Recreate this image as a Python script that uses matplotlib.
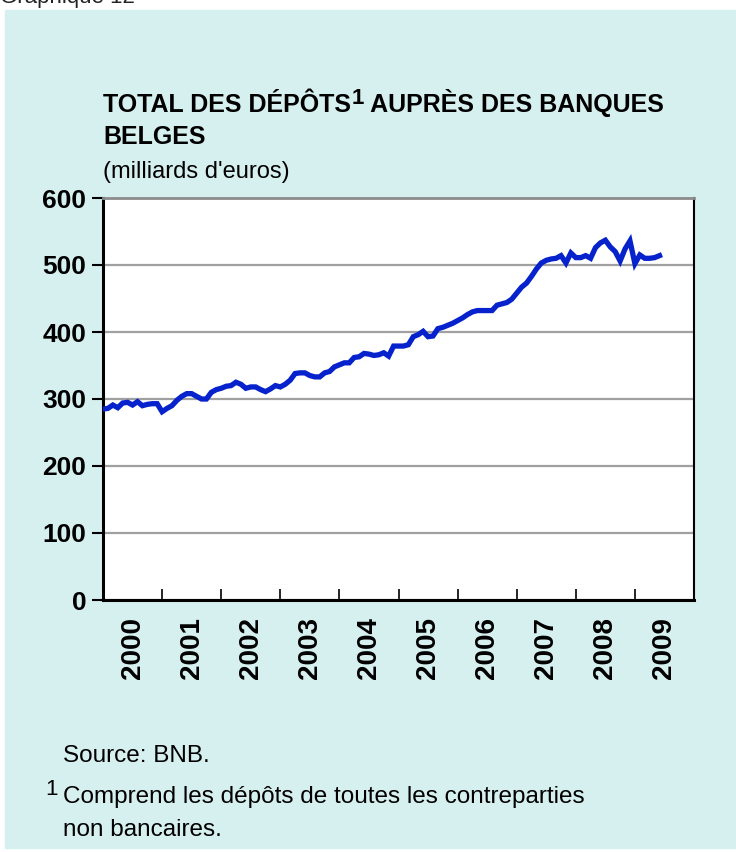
import matplotlib
matplotlib.use("Agg")
import matplotlib.pyplot as plt
from matplotlib.patches import Rectangle
import numpy as np

# total deposits, monthly, Jan 2000 - Jun 2009 (billion EUR)
deposits = [
    285, 286, 291, 287, 294, 295, 291, 296, 290, 292, 293, 293,   # 2000
    281, 286, 290, 298, 304, 308, 308, 304, 300, 300, 310, 314,   # 2001
    316, 319, 320, 325, 322, 316, 318, 318, 314, 311, 315, 320,   # 2002
    318, 322, 328, 338, 339, 339, 335, 333, 333, 339, 341, 348,   # 2003
    351, 354, 354, 362, 363, 368, 367, 365, 366, 369, 364, 379,   # 2004
    379, 379, 381, 393, 396, 401, 393, 394, 405, 407, 410, 413,   # 2005
    417, 421, 426, 430, 432, 432, 432, 432, 440, 442, 444, 449,   # 2006
    458, 467, 473, 483, 494, 503, 507, 509, 510, 514, 503, 518,   # 2007
    511, 511, 514, 510, 526, 533, 537, 527, 520, 506, 524, 536,   # 2008
    502, 515, 510, 510, 511, 514,                                 # 2009
]
start_year = 2000
years = list(range(2000, 2010))
yticks = [0, 100, 200, 300, 400, 500, 600]

title_a = "TOTAL DES DÉPÔTS"
title_b = " AUPRÈS DES BANQUES"
title_2 = "BELGES"
subtitle = "(milliards d'euros)"
source = "Source: BNB."
note_1 = "Comprend les dépôts de toutes les contreparties"
note_2 = "non bancaires."

plt.rcParams["font.family"] = ["Liberation Sans", "DejaVu Sans"]

W, H = 736, 852
fig = plt.figure(figsize=(W / 100, H / 100), dpi=100, facecolor="white")
fig.patches.append(Rectangle((5 / W, 1 - 848 / H), 1, (848 - 10) / H,
                             transform=fig.transFigure, color="#d6f0f0", zorder=-10))


def fx(px):
    return px / W


def fy(py):
    return 1 - py / H


fig.text(0.0, fy(3), "Graphique 12", fontsize=16, va="baseline", color="#222222")

ax = fig.add_axes([fx(103), fy(600), fx(694) - fx(103), fy(198) - fy(600)])
ax.set_zorder(2)
ax.set_facecolor("white")

x = start_year + np.arange(len(deposits)) / 12
ax.plot(x, deposits, color="#0522cc", lw=3.8, solid_joinstyle="miter", zorder=3)

ax.set_xlim(2000, 2010)
ax.set_ylim(0, 600)
ax.set_yticks(yticks)
ax.set_yticklabels([str(v) for v in yticks], fontsize=19, fontweight="bold")
ax.yaxis.grid(True, color="#a0a0a0", lw=1.6)
ax.set_axisbelow(True)

ax.set_xticks(list(range(2000, 2011)))
ax.set_xticklabels([])
ax.set_xticks([y + 0.5 for y in years], minor=True)
ax.set_xticklabels([str(y) for y in years], minor=True, rotation=90,
                   fontsize=20, fontweight="bold")
ax.tick_params(axis="x", which="major", direction="in", length=8, width=1.2)
ax.tick_params(axis="x", which="minor", length=0, pad=12)
ax.tick_params(axis="y", direction="out", length=8, width=1.5, pad=4)

for s in ["left", "bottom"]:
    ax.spines[s].set_linewidth(2.2)
    ax.spines[s].set_color("black")
ax.spines["top"].set_color("#8c8c8c")
ax.spines["top"].set_linewidth(2)
ax.spines["right"].set_color("black")
ax.spines["right"].set_linewidth(1.5)

# title with raised footnote mark
t1 = fig.text(fx(103), fy(112), title_a, fontsize=18, fontweight="bold", va="baseline")
fig.canvas.draw()
r = fig.canvas.get_renderer()
bb = t1.get_window_extent(r)
sup = fig.text(bb.x1 / W + 0.001, fy(104), "1", fontsize=16, fontweight="bold", va="baseline")
bb2 = sup.get_window_extent(r)
fig.text(bb2.x1 / W, fy(112), title_b, fontsize=18, fontweight="bold", va="baseline")
fig.text(fx(103), fy(144), title_2, fontsize=18, fontweight="bold", va="baseline")
fig.text(fx(103), fy(178), subtitle, fontsize=17, va="baseline")

fig.text(fx(63), fy(762), source, fontsize=17.5, va="baseline")
fig.text(fx(45), fy(795), "1", fontsize=16, va="baseline")
fig.text(fx(63), fy(803), note_1, fontsize=17.5, va="baseline")
fig.text(fx(63), fy(836), note_2, fontsize=17.5, va="baseline")

fig.savefig("out.png", dpi=100, facecolor=fig.get_facecolor())
